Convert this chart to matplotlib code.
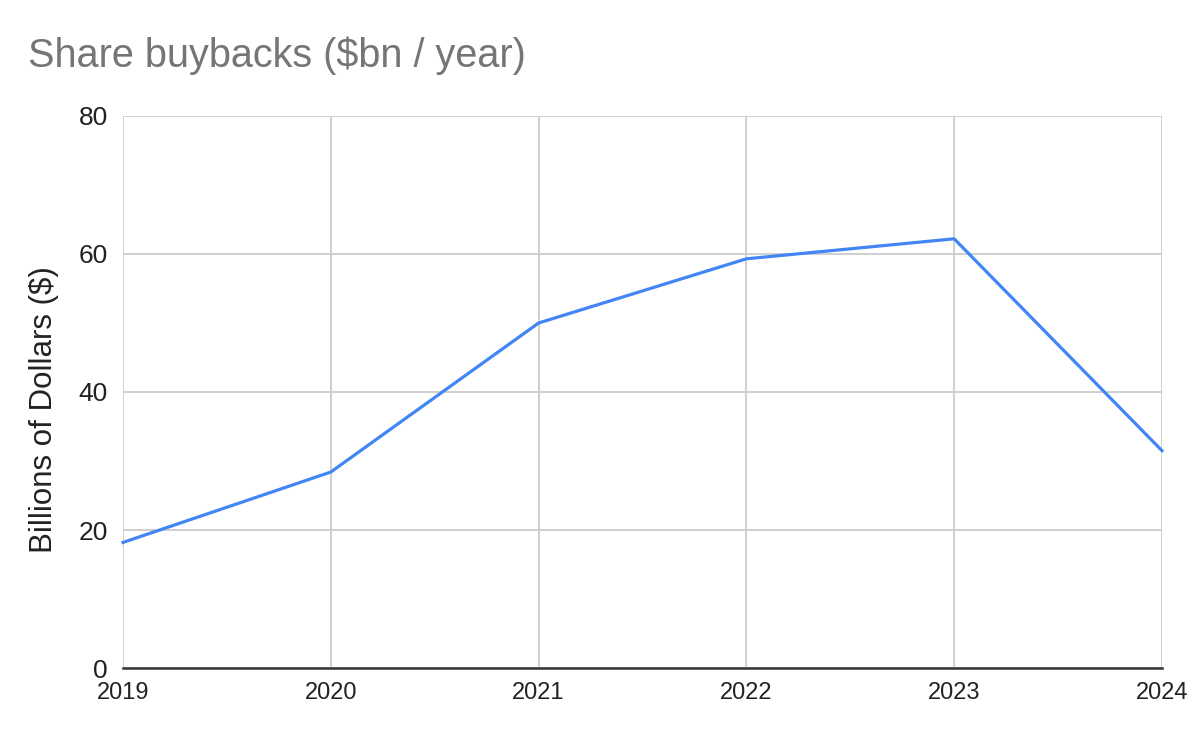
import matplotlib.pyplot as plt

plt.rcParams['font.family'] = ['Liberation Sans', 'DejaVu Sans']

years = [2019, 2020, 2021, 2022, 2023, 2024]
buybacks = [18.2, 28.4, 50.0, 59.3, 62.2, 31.5]
y_ticks = [0, 20, 40, 60, 80]

fig = plt.figure(figsize=(12, 7.42), dpi=100)
ax = fig.add_axes([0.1025, 0.0997, 0.8658, 0.744])

ax.plot(years, buybacks, color='#4285F4', linewidth=2.3, solid_joinstyle='miter', clip_on=False, zorder=3)

ax.set_xlim(2019, 2024)
ax.set_ylim(0, 80)
ax.set_xticks(years)
ax.set_yticks(y_ticks)
ax.set_xticklabels([str(y) for y in years], fontsize=17)
ax.set_yticklabels([str(v) for v in y_ticks], fontsize=19)
ax.tick_params(axis='both', length=0, colors='#222222')
ax.tick_params(axis='x', pad=10)
ax.tick_params(axis='y', pad=11)

ax.grid(True, color='#cccccc', linewidth=1.3)
ax.set_axisbelow(True)
for side in ['top', 'right', 'left']:
    ax.spines[side].set_visible(False)
ax.spines['bottom'].set_color('#333333')
ax.spines['bottom'].set_linewidth(1.8)
ax.spines['bottom'].set_zorder(4)

ax.set_ylabel('Billions of Dollars ($)', fontsize=22.5, color='#222222')
ax.yaxis.set_label_coords(-0.062, 0.469)
fig.text(0.0233, 0.9097, 'Share buybacks ($bn / year)', fontsize=28.5, color='#757575', ha='left', va='baseline')

fig.savefig('out.png', dpi=100)
